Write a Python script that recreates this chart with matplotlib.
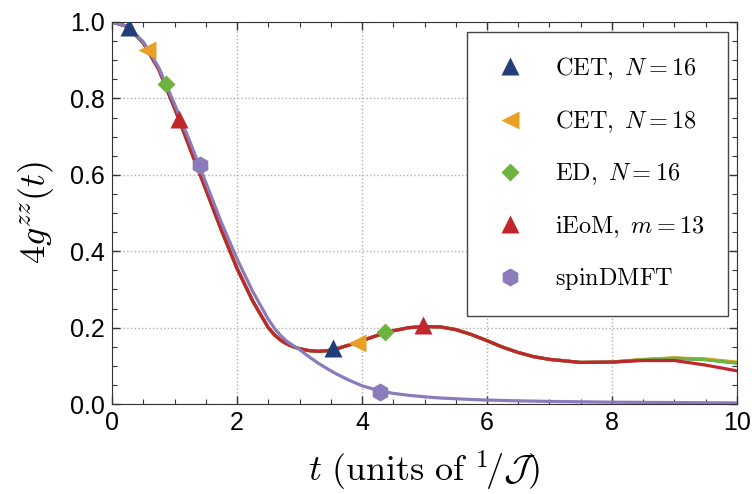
import matplotlib
matplotlib.use("Agg")
import matplotlib.pyplot as plt
from matplotlib.lines import Line2D
from matplotlib.ticker import MultipleLocator

plt.rcParams["mathtext.fontset"] = "cm"
plt.rcParams["font.family"] = ["Liberation Sans", "DejaVu Sans"]

# time grid
t = [0, 0.25, 0.5, 0.75, 1.0, 1.25, 1.5, 1.75, 2.0, 2.25, 2.5, 2.6, 2.7,
     2.8, 2.9, 3.0, 3.15, 3.3, 3.45, 3.6, 3.8, 4.0, 4.25, 4.5, 4.75, 5.0,
     5.25, 5.5, 5.75, 6.0, 6.25, 6.5, 6.75, 7.0, 7.5, 8.0, 8.5, 9.0, 9.5, 10.0]

y_ieom = [1.0, 0.988, 0.945, 0.875, 0.775, 0.668, 0.562, 0.455, 0.355, 0.27,
          0.2, 0.181, 0.167, 0.157, 0.15, 0.145, 0.14, 0.138, 0.14,
          0.145, 0.155, 0.166, 0.18, 0.192, 0.2, 0.203, 0.202, 0.195, 0.182,
          0.166, 0.149, 0.135, 0.124, 0.117, 0.109, 0.11, 0.114, 0.114,
          0.102, 0.087]
y_ed16 = y_ieom[:36] + [0.116, 0.12, 0.116, 0.107]
y_cet18 = y_ieom[:36] + [0.117, 0.121, 0.118, 0.11]
y_cet16 = y_ieom[:36] + [0.116, 0.12, 0.117, 0.108]
y_spin = [1.0, 0.988, 0.948, 0.88, 0.785, 0.685, 0.58, 0.475, 0.38, 0.295,
          0.222, 0.198, 0.179, 0.164, 0.153, 0.143, 0.124, 0.107, 0.092,
          0.078, 0.062, 0.048, 0.036, 0.028, 0.023, 0.019, 0.016, 0.014,
          0.012, 0.0105, 0.0095, 0.0085, 0.0078, 0.007, 0.006, 0.005,
          0.0045, 0.004, 0.0035, 0.003]

# marker positions
mk_cet16 = ([0.27, 3.54], [0.987, 0.147])
mk_cet18 = ([0.56, 3.92], [0.927, 0.16])
mk_ed16 = ([0.86, 4.37], [0.838, 0.188])
mk_ieom = ([1.07, 4.98], [0.746, 0.207])
mk_spin = ([1.41, 4.29], [0.626, 0.031])

labels = [r"$\mathrm{CET},\ N = 16$", r"$\mathrm{CET},\ N = 18$",
          r"$\mathrm{ED},\ N = 16$", r"$\mathrm{iEoM},\ m = 13$",
          r"$\mathrm{spinDMFT}$"]
colors = ["#213d7a", "#e8a026", "#6db33f", "#c0272d", "#8b7bbb"]
markers = ["^", "<", "D", "^", "h"]
msizes = [13, 13, 9, 13, 13]

fig = plt.figure(figsize=(7.52, 4.94), dpi=100)
ax = fig.add_axes([0.149, 0.182, 0.831, 0.7735])

series = [y_cet16, y_cet18, y_ed16, y_ieom, y_spin]
mks = [mk_cet16, mk_cet18, mk_ed16, mk_ieom, mk_spin]
for y, c in zip(series, colors):
    ax.plot(t, y, color=c, lw=2.3, solid_capstyle="round",
            solid_joinstyle="round", zorder=2)
for (mx, my), c, m, s in zip(mks, colors, markers, msizes):
    ax.plot(mx, my, ls="none", marker=m, color=c, ms=s, mec="none", zorder=3)

ax.set_xlim(0, 10)
ax.set_ylim(0, 1.0)
ax.xaxis.set_major_locator(MultipleLocator(2))
ax.xaxis.set_minor_locator(MultipleLocator(0.5))
ax.yaxis.set_minor_locator(MultipleLocator(0.05))
ax.set_yticks([0, 0.2, 0.4, 0.6, 0.8, 1.0])
ax.set_yticklabels(["0.0", "0.2", "0.4", "0.6", "0.8", "1.0"])
ax.tick_params(which="both", direction="in", top=True, right=True,
               labelsize=18, colors="#333333", labelcolor="black")
ax.tick_params(which="major", length=6, width=1, pad=5)
ax.tick_params(which="minor", length=3.5, width=0.8)
ax.grid(True, which="major", ls=":", color="#b0b0b0", lw=1)
for sp in ax.spines.values():
    sp.set_color("#333333")

ax.set_ylabel(r"$4g^{zz}(t)$", fontsize=26, labelpad=10)
ax.set_xlabel(r"$t\ (\mathrm{units\ of}\ {}^{1}\!/\mathcal{J})$", fontsize=26, labelpad=10)

handles = [Line2D([], [], ls="none", marker=m, color=c, ms=s, mec="none")
           for c, m, s in zip(colors, markers, msizes)]
leg = ax.legend(handles, labels, loc="upper right", bbox_to_anchor=(0.986, 0.974),
                fontsize=17.5, labelspacing=1.1, borderpad=0.95, handletextpad=1.0,
                handlelength=1.7, fancybox=False, framealpha=1, borderaxespad=0)
leg.get_frame().set_edgecolor("#444444")
leg.get_frame().set_linewidth(1)

fig.savefig("out.png", dpi=100)
